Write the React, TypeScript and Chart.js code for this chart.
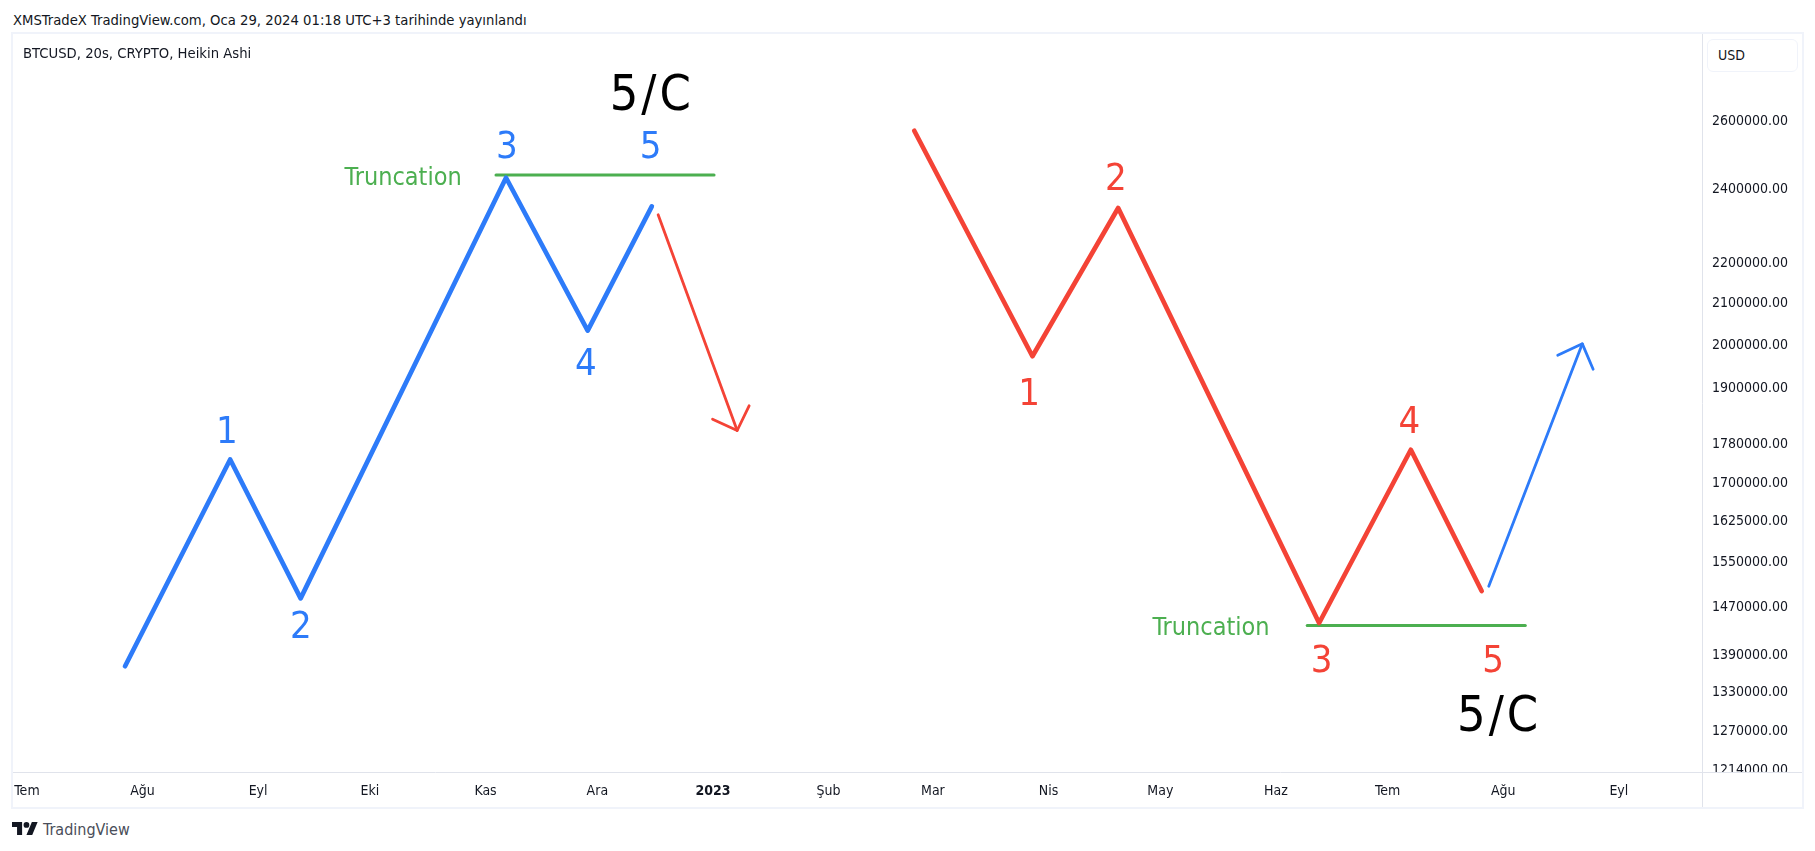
import { useEffect, useRef } from 'react'
import { Chart, registerables } from 'chart.js'

Chart.register(...registerables)

const FONT = '"DejaVu Sans Condensed", "DejaVu Sans", sans-serif'

// x values are days counted from 1 Jul 2022
const xTickDays = [0, 31, 62, 92, 123, 153, 184, 215, 243, 274, 304, 335, 365, 396, 427]
const xTickLabels = ['Tem', 'Ağu', 'Eyl', 'Eki', 'Kas', 'Ara', '2023', 'Şub', 'Mar', 'Nis', 'May', 'Haz', 'Tem', 'Ağu', 'Eyl']
const yTicks = [2600000, 2400000, 2200000, 2100000, 2000000, 1900000, 1780000, 1700000, 1625000, 1550000, 1470000, 1390000, 1330000, 1270000, 1214000]

const blueDays = [26.3, 54.5, 73.4, 128.5, 150.4, 167.6]
const bluePrices = [1367600, 1743200, 1481000, 2426200, 2027900, 2346000]

const redDays = [238, 269.7, 292.7, 346.6, 371.2, 390.2]
const redPrices = [2563700, 1967700, 2341600, 1438800, 1763200, 1493800]

const truncTopDays = [125.8, 184.3]
const truncTopPrices = [2434000, 2434000]
const truncBottomDays = [343.4, 401.9]
const truncBottomPrices = [1434400, 1434400]

const downShaftDays = [169.3, 190.5]
const downShaftPrices = [2323200, 1803500]
const downHeadDays = [183.9, 190.5, 193.7]
const downHeadPrices = [1827600, 1803500, 1856500]

const upShaftDays = [392.1, 417.2]
const upShaftPrices = [1502100, 1996500]
const upHeadDays = [410.6, 417.2, 420.1]
const upHeadPrices = [1970000, 1996500, 1937900]

const BLUE = '#2d7bf9'
const RED = '#f44336'
const GREEN = '#4caf50'

const waveLabels = ['1', '2', '3', '4', '5', '1', '2', '3', '4', '5']
const waveLabelDays = [53.6, 73.5, 128.7, 149.9, 167.3, 268.8, 292.1, 347.3, 370.8, 393.3]
const waveLabelPrices = [1804800, 1434900, 2522000, 1953900, 2522000, 1886400, 2427100, 1378900, 1824800, 1378900]
const waveLabelColors = [BLUE, BLUE, BLUE, BLUE, BLUE, RED, RED, RED, RED, RED]

const truncLabelDays = [100.9, 317.6]
const truncLabelPrices = [2430500, 1432100]

const degreeLabelDays = [167.6, 394.9]
const degreeLabelPrices = [2680500, 1292700]

const line = (days: number[], prices: number[], color: string, width: number) => ({
  data: days.map((d, i) => ({ x: d, y: prices[i] })),
  borderColor: color,
  borderWidth: width,
  borderCapStyle: 'round' as const,
  borderJoinStyle: 'round' as const,
  pointRadius: 0,
  tension: 0,
  fill: false,
})

const textLabels = {
  id: 'textLabels',
  beforeDraw(chart: any) {
    // canvas 'middle' sits a bit high for this font, push the price labels down
    chart.scales.y.getLabelItems().forEach((item: any) => {
      if (!item.moved) {
        item.options.translation[1] += 2.5
        item.moved = true
      }
    })
  },
  afterDatasetsDraw(chart: any) {
    const { ctx, scales } = chart
    const put = (text: string, day: number, price: number, color: string, size: number, spacing = '0px') => {
      ctx.fillStyle = color
      ctx.font = `${size}px ${FONT}`
      ctx.letterSpacing = spacing
      ctx.fillText(text, scales.x.getPixelForValue(day), scales.y.getPixelForValue(price) + size * 0.08)
    }
    ctx.save()
    ctx.textAlign = 'center'
    ctx.textBaseline = 'middle'
    waveLabels.forEach((t, i) => put(t, waveLabelDays[i], waveLabelPrices[i], waveLabelColors[i], 38))
    truncLabelDays.forEach((d, i) => put('Truncation', d, truncLabelPrices[i], GREEN, 25))
    degreeLabelDays.forEach((d, i) => put('5/C', d, degreeLabelPrices[i], '#000000', 50, '3px'))
    ctx.restore()
  },
}

const box = (left: number, top: number, extra: React.CSSProperties = {}): React.CSSProperties => ({
  position: 'absolute',
  left,
  top,
  fontFamily: FONT,
  fontSize: 14.7,
  color: '#131722',
  whiteSpace: 'nowrap',
  ...extra,
})

const noOverhang = (scale: any) => {
  scale.paddingLeft = 0
  scale.paddingRight = 0
  scale.paddingTop = 0
  scale.paddingBottom = 0
}

export default function App() {
  const chartRef = useRef<HTMLCanvasElement>(null)

  useEffect(() => {
    if (!chartRef.current) return

    const chart = new Chart(chartRef.current, {
      type: 'line',
      data: {
        datasets: [
          line(blueDays, bluePrices, BLUE, 4.7),
          line(redDays, redPrices, RED, 4.7),
          line(truncTopDays, truncTopPrices, GREEN, 3),
          line(truncBottomDays, truncBottomPrices, GREEN, 3),
          line(downShaftDays, downShaftPrices, RED, 2.8),
          line(downHeadDays, downHeadPrices, RED, 2.8),
          line(upShaftDays, upShaftPrices, BLUE, 2.8),
          line(upHeadDays, upHeadPrices, BLUE, 2.8),
        ],
      },
      options: {
        responsive: false,
        animation: false,
        layout: { padding: 0 },
        plugins: {
          legend: { display: false },
          tooltip: { enabled: false },
          title: { display: false },
        },
        scales: {
          x: {
            type: 'linear',
            position: 'bottom',
            min: -3.75,
            max: 449.3,
            afterBuildTicks: (scale: any) => {
              scale.ticks = xTickDays.map((value) => ({ value }))
            },
            afterFit: (scale: any) => {
              scale.height = 35
              noOverhang(scale)
            },
            grid: { display: false, drawTicks: false },
            border: { display: true, color: '#e0e3eb', width: 1 },
            ticks: {
              autoSkip: false,
              maxRotation: 0,
              padding: 11,
              color: '#131722',
              font: (c: any) => ({
                family: FONT,
                size: 14,
                weight: xTickLabels[c.index] === '2023' ? 'bold' : 'normal',
              }),
              callback: (_v: any, i: number) => xTickLabels[i],
            },
          },
          y: {
            type: 'logarithmic',
            position: 'right',
            bounds: 'data',
            min: 1208000,
            max: 2872000,
            afterBuildTicks: (scale: any) => {
              scale.ticks = yTicks.map((value) => ({ value }))
            },
            afterFit: (scale: any) => {
              scale.width = 100
              noOverhang(scale)
            },
            grid: { display: false, drawTicks: false },
            border: { display: true, color: '#e0e3eb', width: 1 },
            ticks: {
              autoSkip: false,
              padding: 10,
              color: '#131722',
              font: { family: FONT, size: 14 },
              callback: (v: any) => Number(v).toFixed(2),
            },
          },
        },
      },
      plugins: [textLabels],
    } as any)

    return () => {
      chart.destroy()
    }
  }, [])

  return (
    <div style={{ position: 'absolute', left: 0, top: 0, width: 1815, height: 851, overflow: 'hidden', background: '#fff' }}>
      <div style={box(13, 11)}>XMSTradeX TradingView.com, Oca 29, 2024 01:18 UTC+3 tarihinde yayınlandı</div>
      <div style={{ position: 'absolute', left: 11, top: 32, width: 1789, height: 773, border: '2px solid #f0f3fa' }} />
      <canvas ref={chartRef} width={1789} height={773} style={{ position: 'absolute', left: 13, top: 34 }} />
      <div style={box(23, 44)}>BTCUSD, 20s, CRYPTO, Heikin Ashi</div>
      <div style={box(1707, 39, { width: 89, height: 31, border: '1px solid #f0f3fa', borderRadius: 6, background: '#fff', lineHeight: '31px', textIndent: 10, fontSize: 14 })}>USD</div>
      <div style={{ position: 'absolute', left: 1702, top: 772, width: 99, height: 34, borderLeft: '1px solid #e0e3eb', borderTop: '1px solid #e0e3eb', background: '#fff' }} />
      <svg style={{ position: 'absolute', left: 12, top: 822 }} width="26" height="13" viewBox="0 4 36 18">
        <path d="M14 22H7V11H0V4h14v18zM28 22h-8l7.5-18h8L28 22z" fill="#131722" />
        <circle cx="20" cy="8" r="4" fill="#131722" />
      </svg>
      <div style={box(43, 820, { fontSize: 16, color: '#4a4e59' })}>TradingView</div>
    </div>
  )
}
